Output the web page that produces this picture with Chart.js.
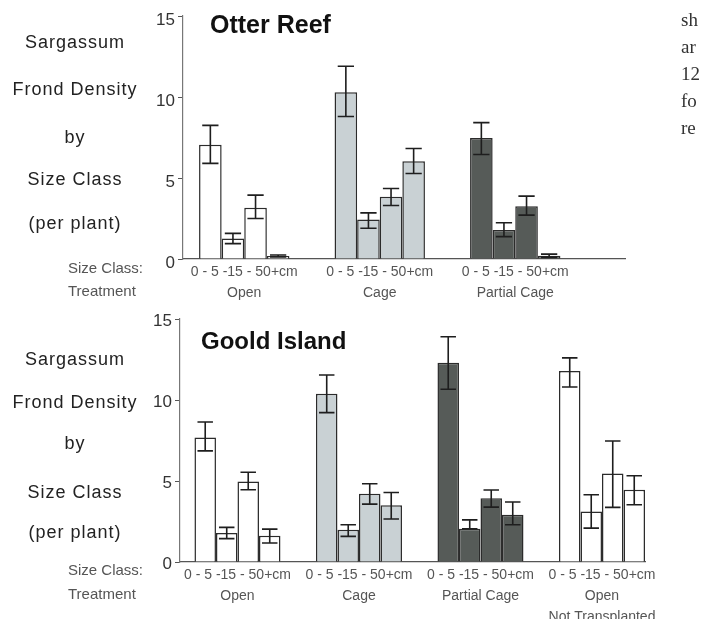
<!DOCTYPE html>
<html>
<head>
<meta charset="utf-8">
<title>Sargassum frond density</title>
<script src="https://cdn.jsdelivr.net/npm/chart.js@4.4.1/dist/chart.umd.min.js"></script>
<style>
  html, body { margin: 0; padding: 0; }
  body { width: 701px; height: 619px; overflow: hidden; position: relative; background: #fff;
         font-family: "Liberation Sans", Arial, Helvetica, sans-serif; color: #222; }
  .panel { position: absolute; left: 0; width: 701px; }
  .ylab { position: absolute; left: 0; width: 150px; text-align: center; font-size: 18px;
          line-height: 18px; letter-spacing: 1px; color: #222; white-space: nowrap; }
  .keylab { position: absolute; left: 68px; font-size: 15px; line-height: 15px; color: #555; white-space: nowrap; }
  .title { position: absolute; font-weight: bold; line-height: 1; color: #111; white-space: nowrap; }
  .page { position: absolute; left: 681px; top: 6px; font-family: "Liberation Serif", "DejaVu Serif", serif;
          font-size: 19px; line-height: 27px; color: #333; white-space: nowrap; }
</style>
</head>
<body>
<div class="panel" style="top:0;height:310px"><canvas id="otter-chart"></canvas></div>
<div class="panel" style="top:300px;height:319px"><canvas id="goold-chart"></canvas></div>

<div class="title" style="left:210px;top:12px;font-size:25px">Otter Reef</div>
<div class="title" style="left:201px;top:329px;font-size:24px">Goold Island</div>
<div class="page">sh<br>ar<br>12<br>fo<br>re</div>
<div id="labels"></div>

<script>
"use strict";

// data
var SIZE_CLASSES = ["0-5 cm", "5-15 cm", "15-50 cm", "50+ cm"];
var SIZE_AXIS_LABEL = "0 - 5 -15 - 50+cm";
var Y_TITLE = ["Sargassum", "Frond Density", "by", "Size Class", "(per plant)"];

var otterTreatments = [["Open"], ["Cage"], ["Partial Cage"]];
var otterMeans = [[7.05, 1.27, 3.16, 0.18], [10.3, 2.44, 3.84, 6.04], [7.47, 1.79, 3.26, 0.2]];
var otterLow = [[5.9, 0.95, 2.5, 0.12], [8.8, 1.9, 3.3, 5.28], [6.45, 1.38, 2.71, 0.1]];
var otterHigh = [[8.25, 1.58, 3.94, 0.25], [11.9, 2.85, 4.35, 6.82], [8.42, 2.24, 3.88, 0.3]];

var gooldTreatments = [["Open"], ["Cage"], ["Partial Cage"], ["Open", "Not Transplanted"]];
var gooldMeans = [[7.68, 1.79, 4.97, 1.62], [10.39, 1.99, 4.21, 3.51], [12.3, 2.05, 3.94, 2.92], [11.79, 3.12, 5.46, 4.46]];
var gooldLow = [[6.86, 1.44, 4.46, 1.17], [9.22, 1.58, 3.57, 2.65], [10.66, 2.05, 3.39, 2.3], [10.8, 2.09, 3.37, 3.53]];
var gooldHigh = [[8.64, 2.14, 5.54, 2.03], [11.54, 2.3, 4.83, 4.29], [13.9, 2.6, 4.44, 3.7], [12.6, 4.15, 7.47, 5.32]];

var FILL = { open: "#ffffff", cage: "#c9d1d4", partial: "#565b58" };
var otterFills = [FILL.open, FILL.cage, FILL.partial];
var gooldFills = [FILL.open, FILL.cage, FILL.partial, FILL.open];

// error bars: whiskers read from dataset.errLow / errHigh through the y scale
var errorBarPlugin = {
  id: "errorBars",
  afterDatasetsDraw: function (chart) {
    var ctx = chart.ctx;
    var y = chart.scales.y;
    ctx.save();
    ctx.strokeStyle = "#1e1e1e";
    ctx.lineWidth = 1.6;
    chart.data.datasets.forEach(function (ds, k) {
      chart.getDatasetMeta(k).data.forEach(function (bar, i) {
        var lo = y.getPixelForValue(ds.errLow[i]);
        var hi = y.getPixelForValue(ds.errHigh[i]);
        var cap = bar.width * 0.36;
        ctx.beginPath();
        ctx.moveTo(bar.x, lo); ctx.lineTo(bar.x, hi);
        ctx.moveTo(bar.x - cap, hi); ctx.lineTo(bar.x + cap, hi);
        ctx.moveTo(bar.x - cap, lo); ctx.lineTo(bar.x + cap, lo);
        ctx.stroke();
      });
    });
    ctx.restore();
  },
};

function buildDatasets(means, low, high, fills, catPct) {
  return SIZE_CLASSES.map(function (name, k) {
    return {
      label: name,
      data: means.map(function (row, i) { return { x: i, y: row[k] }; }),
      errLow: low.map(function (row) { return row[k]; }),
      errHigh: high.map(function (row) { return row[k]; }),
      backgroundColor: fills,
      borderColor: "#2b2b2b",
      borderWidth: 1.5,
      categoryPercentage: catPct,
      barPercentage: 1,
    };
  });
}

function makePanel(id, treatments, datasets, box) {
  return new Chart(document.getElementById(id), {
    type: "bar",
    data: { datasets: datasets },
    plugins: [errorBarPlugin],
    options: {
      responsive: true, maintainAspectRatio: false, animation: false,
      layout: { padding: { top: box.top, right: box.right, left: 0, bottom: 0 } },
      plugins: { legend: { display: false }, tooltip: { enabled: false } },
      scales: {
        x: {
          type: "linear", offset: false, min: box.xMin, max: box.xMax,
          afterBuildTicks: function (s) {
            s.ticks = treatments.map(function (_, i) { return { value: i }; });
          },
          afterFit: function (s) { s.height = box.xHeight; },
          ticks: {
            autoSkip: false, maxRotation: 0, padding: 3, color: "#555",
            font: { size: 14, lineHeight: 1.5 },
            callback: function (v) { return [SIZE_AXIS_LABEL].concat(treatments[Math.round(v)]); },
          },
          grid: { display: false, drawTicks: false },
          border: { color: "#555", width: 1.2 },
        },
        y: {
          min: 0, max: 15,
          afterFit: function (s) { s.width = box.yWidth; },
          ticks: { stepSize: 5, color: "#333", font: { size: 17 }, padding: 3, labelOffset: box.yLabelShift },
          grid: { drawOnChartArea: false, drawTicks: true, tickLength: 5, color: "#555" },
          border: { color: "#777", width: 1.2 },
        },
      },
    },
  });
}

// side labels
function addLabels(tops, keyTops) {
  var host = document.getElementById("labels");
  Y_TITLE.forEach(function (txt, i) {
    var d = document.createElement("div");
    d.className = "ylab";
    d.style.top = tops[i] + "px";
    d.textContent = txt;
    host.appendChild(d);
  });
  ["Size Class:", "Treatment"].forEach(function (txt, i) {
    var d = document.createElement("div");
    d.className = "keylab";
    d.style.top = keyTops[i] + "px";
    d.textContent = txt;
    host.appendChild(d);
  });
}

addLabels([33, 80, 128, 170, 214], [260, 283]);
addLabels([350, 393, 434, 483, 523], [562, 586]);

makePanel("otter-chart", otterTreatments,
  buildDatasets(otterMeans, otterLow, otterHigh, otterFills, 0.667),
  { top: 16, right: 76, yWidth: 183, xHeight: 51, xMin: -0.452, xMax: 2.81, yLabelShift: 4 });

makePanel("goold-chart", gooldTreatments,
  buildDatasets(gooldMeans, gooldLow, gooldHigh, gooldFills, 0.708),
  { top: 19, right: 56, yWidth: 180, xHeight: 57, xMin: -0.473, xMax: 3.354, yLabelShift: 2 });
</script>
</body>
</html>
